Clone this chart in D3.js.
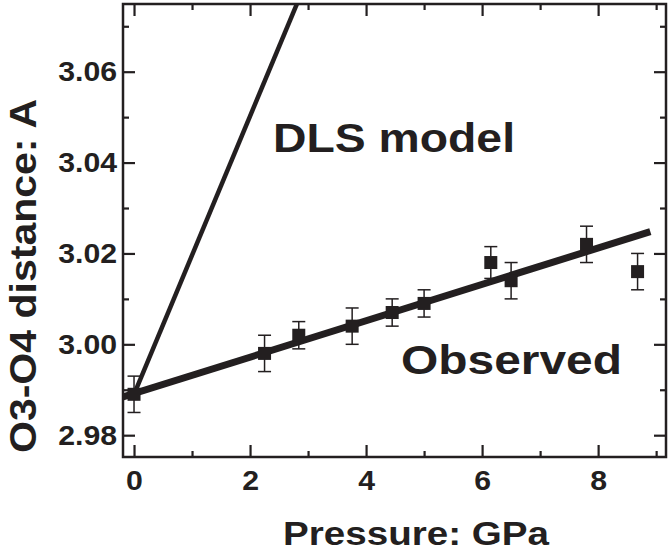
<!DOCTYPE html>
<html>
<head>
<meta charset="utf-8">
<script src="https://cdn.jsdelivr.net/npm/d3@7"></script>
<style>
  body { margin: 0; background: #fff; }
  text { font-family: "Liberation Sans", Arial, sans-serif; font-weight: bold; fill: #231f20; }
</style>
</head>
<body>
<div id="chart"></div>
<script>
// observed O3-O4 distances vs pressure
var pressure = [0.0, 2.25, 2.84, 3.76, 4.45, 5.0, 6.15, 6.5, 7.8, 8.68];
var distance = [2.989, 2.998, 3.002, 3.004, 3.007, 3.009, 3.018, 3.014, 3.022, 3.016];
var errors = [0.004, 0.004, 0.003, 0.004, 0.003, 0.003, 0.0035, 0.004, 0.004, 0.004];

// fitted line through observed points and DLS model line (end points)
var fitP = [-0.19, 8.9];
var fitD = [2.9884, 3.0248];
var dlsP = [0.0, 2.81];
var dlsD = [2.989, 3.075];

var xMajor = [0, 2, 4, 6, 8];
var xMinor = [1, 3, 5, 7, 9];
var yMajor = [2.98, 3.00, 3.02, 3.04, 3.06];
var yMinor = [2.99, 3.01, 3.03, 3.05, 3.07];

var fullWidth = 669, fullHeight = 556;
var margin = {left: 123, right: 666, top: 4, bottom: 457};
var ink = '#231f20';

var svg = d3.select('#chart').append('svg')
  .attr('width', fullWidth)
  .attr('height', fullHeight);

var x = d3.scaleLinear().domain([-0.19, 9.17]).range([margin.left, margin.right]);
var y = d3.scaleLinear().domain([2.9752, 3.0749]).range([margin.bottom, margin.top]);

// axes: major ticks inward with labels, minor ticks inward, mirrored on top/right
function styleAxis(g) {
  g.select('.domain').remove();
  g.selectAll('.tick line').attr('stroke', ink).attr('stroke-width', 2.2);
  g.selectAll('.tick text')
    .style('font-size', '28px')
    .attr('fill', ink)
    .attr('transform', 'scale(1.08,1)'); // labels in the original are a bit wide
}
function addAxis(axis, tx, ty) {
  svg.append('g').attr('transform', 'translate(' + tx + ',' + ty + ')').call(axis).call(styleAxis);
}
addAxis(d3.axisBottom(x).tickValues(xMajor).tickSize(-12).tickPadding(13).tickFormat(d3.format('d')), 0, margin.bottom);
addAxis(d3.axisBottom(x).tickValues(xMinor).tickSize(-6).tickFormat(''), 0, margin.bottom);
addAxis(d3.axisTop(x).tickValues(xMajor).tickSize(-12).tickFormat(''), 0, margin.top);
addAxis(d3.axisTop(x).tickValues(xMinor).tickSize(-6).tickFormat(''), 0, margin.top);
addAxis(d3.axisLeft(y).tickValues(yMajor).tickSize(-12).tickPadding(5.5).tickFormat(d3.format('.2f')), margin.left, 0);
addAxis(d3.axisLeft(y).tickValues(yMinor).tickSize(-6).tickFormat(''), margin.left, 0);
addAxis(d3.axisRight(y).tickValues(yMajor).tickSize(-12).tickFormat(''), margin.right, 0);
addAxis(d3.axisRight(y).tickValues(yMinor).tickSize(-6).tickFormat(''), margin.right, 0);

// frame
svg.append('rect')
  .attr('x', margin.left).attr('y', margin.top)
  .attr('width', margin.right - margin.left).attr('height', margin.bottom - margin.top)
  .attr('fill', 'none').attr('stroke', ink).attr('stroke-width', 2.5);

svg.append('clipPath').attr('id', 'plot-clip')
  .append('rect').attr('x', margin.left).attr('y', margin.top)
  .attr('width', margin.right - margin.left).attr('height', margin.bottom - margin.top);

var plot = svg.append('g').attr('clip-path', 'url(#plot-clip)');
var line = d3.line().x(function(d) { return x(d[0]); }).y(function(d) { return y(d[1]); });

plot.append('path')
  .datum(d3.zip(dlsP, dlsD))
  .attr('d', line)
  .attr('fill', 'none').attr('stroke', ink).attr('stroke-width', 4.5);

plot.append('path')
  .datum(d3.zip(fitP, fitD))
  .attr('d', line)
  .attr('fill', 'none').attr('stroke', ink).attr('stroke-width', 7);

// error bars
var pts = d3.zip(pressure, distance, errors);
var eb = plot.selectAll('g.err').data(pts).enter().append('g').classed('err', true)
  .attr('stroke', ink).attr('stroke-width', 1.5);
eb.append('line')
  .attr('x1', function(d) { return x(d[0]); }).attr('x2', function(d) { return x(d[0]); })
  .attr('y1', function(d) { return y(d[1] - d[2]); }).attr('y2', function(d) { return y(d[1] + d[2]); });
eb.append('line')
  .attr('x1', function(d) { return x(d[0]) - 6.5; }).attr('x2', function(d) { return x(d[0]) + 6.5; })
  .attr('y1', function(d) { return y(d[1] + d[2]); }).attr('y2', function(d) { return y(d[1] + d[2]); });
eb.append('line')
  .attr('x1', function(d) { return x(d[0]) - 6.5; }).attr('x2', function(d) { return x(d[0]) + 6.5; })
  .attr('y1', function(d) { return y(d[1] - d[2]); }).attr('y2', function(d) { return y(d[1] - d[2]); });

// square markers
var sq = 13;
plot.selectAll('rect.pt').data(pts).enter().append('rect').classed('pt', true)
  .attr('x', function(d) { return x(d[0]) - sq / 2; })
  .attr('y', function(d) { return y(d[1]) - sq / 2; })
  .attr('width', sq).attr('height', sq)
  .attr('fill', ink);

// labels
svg.append('text')
  .attr('x', 273).attr('y', 152)
  .attr('textLength', 242).attr('lengthAdjust', 'spacingAndGlyphs')
  .style('font-size', '40px')
  .text('DLS model');
svg.append('text')
  .attr('x', 401).attr('y', 374)
  .attr('textLength', 221).attr('lengthAdjust', 'spacingAndGlyphs')
  .style('font-size', '40px')
  .text('Observed');

// axis titles
svg.append('text')
  .attr('x', 283).attr('y', 545)
  .attr('textLength', 266).attr('lengthAdjust', 'spacingAndGlyphs')
  .style('font-size', '33px')
  .text('Pressure: GPa');
svg.append('text')
  .attr('transform', 'translate(36,453) rotate(-90)')
  .attr('textLength', 354).attr('lengthAdjust', 'spacingAndGlyphs')
  .style('font-size', '36px')
  .text('O3-O4 distance: A');
</script>
</body>
</html>
